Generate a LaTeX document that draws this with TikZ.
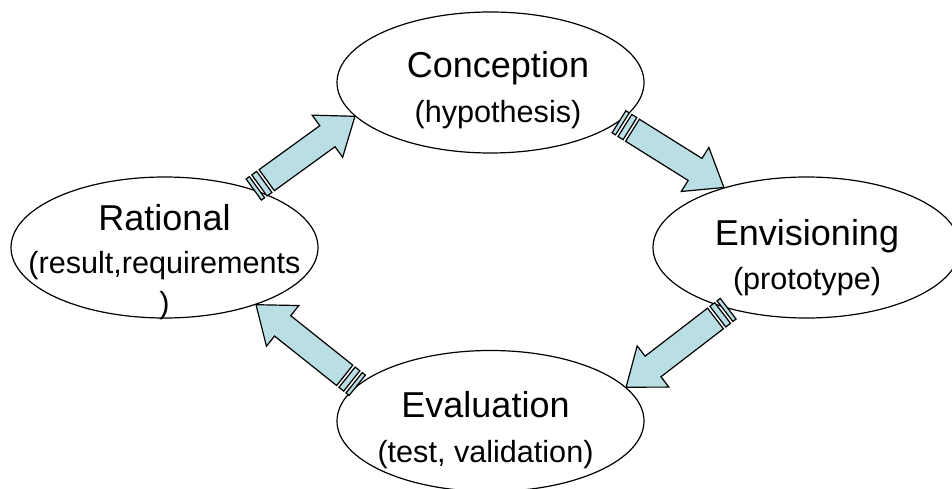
\documentclass[tikz,border=0pt]{standalone}
\usepackage{fontspec}
\setmainfont{Liberation Sans}
\usetikzlibrary{shapes.geometric,calc}
\definecolor{arrowblue}{RGB}{185,222,227}

% Striped block arrow from #1 to #2
\newcommand{\stripedarrow}[2]{%
	\path let \p1=($(#2)-(#1)$) in \pgfextra{%
		\pgfmathsetmacro\arrang{atan2(\y1,\x1)}%
		\pgfmathsetmacro\arrlen{veclen(\x1,\y1)}%
		\global\let\arrang\arrang
		\global\let\arrlen\arrlen};
	\begin{scope}[shift={(#1)}, rotate=\arrang]
		\draw[blockarrow] (0,-13) rectangle (4,13); % Stripe
		\draw[blockarrow] (7,-13) rectangle (13,13); % Stripe
		\draw[blockarrow] (16,-13) -- (\arrlen-34,-13) -- (\arrlen-34,-26) -- (\arrlen,0)
			-- (\arrlen-34,26) -- (\arrlen-34,13) -- (16,13) -- cycle; % Pil
	\end{scope}}

\begin{document}
\begin{tikzpicture}[x=1pt,y=1pt]

% Styles
\tikzstyle{stage} = [ellipse, draw, line width=1.2pt, minimum width=307pt, minimum height=141pt, inner sep=0pt]
\tikzstyle{stagetitle} = [inner sep=0pt, anchor=base, font=\fontsize{36}{40}\selectfont]
\tikzstyle{stagesub} = [inner sep=0pt, anchor=base, font=\fontsize{30.6}{36}\selectfont]
\tikzstyle{blockarrow} = [draw, line width=1.2pt, fill=arrowblue, line join=miter]

	\useasboundingbox (0,0) rectangle (952,488);

	% Stages
	\node[stage] (conception) at (490.5,405.5) {};
	\node[stage] (rational) at (164.5,240.5) {};
	\node[stage] (envisioning) at (806.5,240.5) {};
	\node[stage] (evaluation) at (490.5,67) {};

	% Arrows
	\stripedarrow{rational.33}{conception.194}
	\stripedarrow{conception.-17}{envisioning.144}
	\stripedarrow{envisioning.218}{evaluation.14}
	\stripedarrow{evaluation.165}{rational.-32}

	% Text
	\node[stagetitle] (conception_title) at ($(conception)+(7.5,4.5)$) {Conception};
	\node[stagesub] (conception_sub) at ($(conception)+(7.5,-40.5)$) {(hypothesis)};
	\node[stagetitle] (rational_title) at ($(rational)+(0,17.5)$) {Rational};
	\node[stagesub] (rational_sub) at ($(rational)+(0,-25.5)$) {(result,requirements};
	\node[stagesub] (rational_end) at ($(rational)+(0,-65.5)$) {)};
	\node[stagetitle] (envisioning_title) at ($(envisioning)+(0.5,2.5)$) {Envisioning};
	\node[stagesub] (envisioning_sub) at ($(envisioning)+(0.5,-42)$) {(prototype)};
	\node[stagetitle] (evaluation_title) at ($(evaluation)+(-5,4)$) {Evaluation};
	\node[stagesub] (evaluation_sub) at ($(evaluation)+(-5,-41.5)$) {(test, validation)};

\end{tikzpicture}
\end{document}
